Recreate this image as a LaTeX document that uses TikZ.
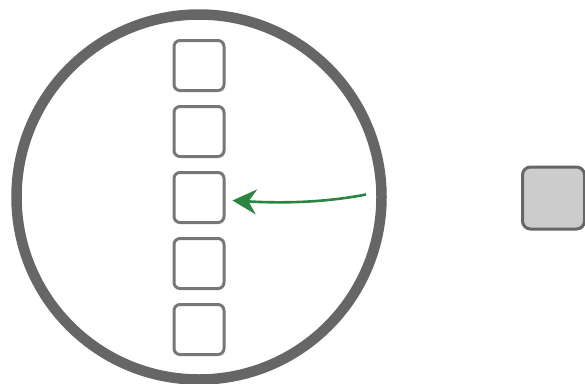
\documentclass[tikz,border=0pt]{standalone}
\usetikzlibrary{arrows.meta}
\definecolor{ringgray}{HTML}{666666}
\definecolor{boxgray}{HTML}{777777}
\definecolor{fillgray}{HTML}{CCCCCC}
\definecolor{arrowgreen}{HTML}{2A8540}
\begin{document}
\begin{tikzpicture}[x=1pt,y=-1pt,
  slot/.style={draw=boxgray,line width=3pt,rectangle,rounded corners=6pt,minimum size=50pt,inner sep=0pt},
  ring/.style={draw=ringgray,line width=10.5pt,circle,minimum size=365pt,inner sep=0pt},
  token/.style={draw=ringgray,fill=fillgray,line width=3pt,rectangle,rounded corners=8pt,minimum size=62pt,inner sep=0pt},
  flow/.style={draw=arrowgreen,line width=2.6pt,-{Stealth[length=24pt,width=25pt,inset=8pt]}}]
\useasboundingbox (0,0) rectangle (585,383);
\node[ring] (ring) at (199,197) {};
\node[slot] (m1) at (199,65.5) {};
\node[slot] (m2) at (199,131.5) {};
\node[slot] (m3) at (199,197.5) {};
\node[slot] (m4) at (199,263.5) {};
\node[slot] (m5) at (199,329.5) {};
\node[token] (t) at (553.5,198) {};
\coordinate (src) at (366,194.5);
\draw[flow] (src) .. controls (320,203.5) and (275,203) .. ([xshift=7pt,yshift=-3pt]m3.east);
\end{tikzpicture}
\end{document}
